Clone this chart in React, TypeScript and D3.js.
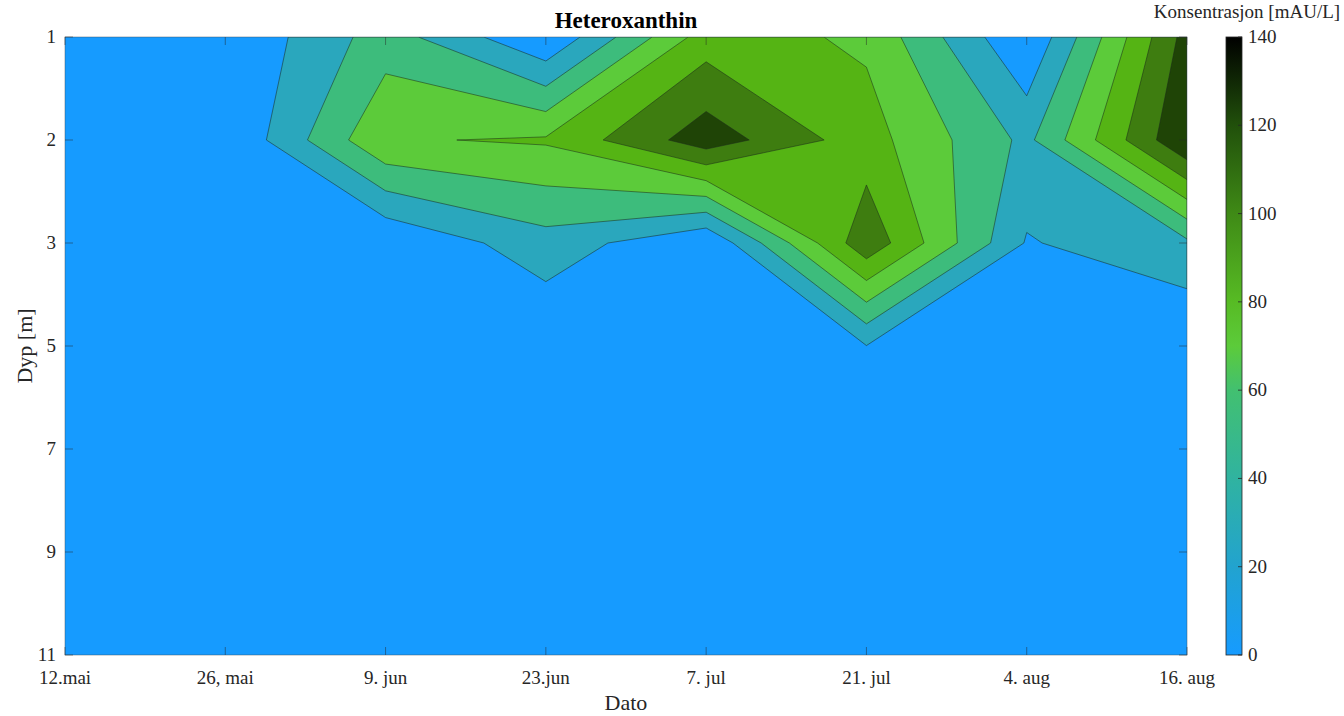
import React from "react";
import * as d3 from "d3";

// ---- data ----
const dates = ["12.mai", "26, mai", "9. jun", "23.jun", "7. jul", "21. jul", "4. aug", "16. aug"];
const depths = [1, 2, 3, 5, 7, 9, 11];
// concentration [mAU/L] per depth row, one value per sampling date
const depth1 = [0, 0.6, 50, 1, 90, 76.4, 0, 128];
const depth2 = [0, 0, 78, 82.5, 131.5, 88.7, 35, 140];
const depth3 = [0, 0, 1, 32, 1, 114.6, 18.3, 36];
const depth5 = [0, 0, 0, 0, 0, 19.6, 3, 0];
const depth7 = [0, 0, 0, 0, 0, 0, 0, 0];
const depth9 = [0, 0, 0, 0, 0, 0, 0, 0];
const depth11 = [0, 0, 0, 0, 0, 0, 0, 0];
const rows = [depth1, depth2, depth3, depth5, depth7, depth9, depth11];

const levels = [20, 40, 60, 80, 100, 120];
const bandColors = ["#169bff", "#2aa7bd", "#3dbc7c", "#5ccb3a", "#55b414", "#3e7d10", "#1f4406"];
const colorbarTicks = [0, 20, 40, 60, 80, 100, 120, 140];
const colorbarStopValues = [0, 20, 40, 60, 70, 80, 100, 120, 140];
const colorbarStopColors = ["#169bff", "#22a3cf", "#30b3a0", "#42c070", "#5ccb3a", "#57bb24", "#3f8a16", "#21500b", "#000000"];

const W = 1344;
const H = 716;
const L = 65, R = 1187, T = 37, B = 655;
const FONT = "Liberation Serif";

export default function App() {
  const nx = dates.length;
  const ny = depths.length;
  const x = d3.scaleLinear().domain([0, nx - 1]).range([L, R]);
  const y = d3.scaleLinear().domain([0, ny - 1]).range([T, B]);
  const values: number[] = [];
  rows.forEach((r) => r.forEach((v) => values.push(v)));
  const contours = d3.contours().size([nx, ny]).thresholds(levels)(values);
  const clamp = (v: number, lo: number, hi: number) => Math.max(lo, Math.min(hi, v));
  const proj = d3.geoTransform({
    point(px: number, py: number) {
      (this as any).stream.point(x(clamp(px - 0.5, 0, nx - 1)), y(clamp(py - 0.5, 0, ny - 1)));
    },
  });
  const path = d3.geoPath(proj);

  const cb = d3.scaleLinear().domain([0, 140]).range([B, T]);
  const cbX0 = 1226, cbX1 = 1242;

  return (
    <svg width={W} height={H} style={{ position: "absolute", left: 0, top: 0, background: "#fff" }} fontFamily={FONT}>
      <defs>
        <clipPath id="plotclip">
          <rect x={L} y={T} width={R - L} height={B - T} />
        </clipPath>
        <linearGradient id="cbgrad" x1="0" y1="1" x2="0" y2="0">
          {colorbarStopValues.map((v, i) => (
            <stop key={i} offset={`${(v / 140) * 100}%`} stopColor={colorbarStopColors[i]} />
          ))}
        </linearGradient>
      </defs>
      <g clipPath="url(#plotclip)">
        <rect x={L} y={T} width={R - L} height={B - T} fill={bandColors[0]} />
        {contours.map((c, i) => (
          <path key={i} d={path(c as any) || ""} fill={bandColors[i + 1]} stroke="#1b2a1b" strokeOpacity={0.75} strokeWidth={0.7} strokeLinejoin="round" />
        ))}
      </g>
      <rect x={L} y={T} width={R - L} height={B - T} fill="none" stroke="#3a4a5a" strokeOpacity={0.55} strokeWidth={0.8} />
      {/* x ticks */}
      {dates.map((d, i) => (
        <g key={d}>
          <line x1={x(i)} x2={x(i)} y1={B} y2={B - 8} stroke="#262626" strokeOpacity={0.6} strokeWidth={0.8} />
          <line x1={x(i)} x2={x(i)} y1={T} y2={T + 8} stroke="#262626" strokeOpacity={0.6} strokeWidth={0.8} />
          <text x={x(i)} y={684} textAnchor="middle" fontFamily={FONT} fontSize={19} fill="#262626">{d}</text>
        </g>
      ))}
      {/* y ticks */}
      {depths.map((d, j) => (
        <g key={d}>
          <line x1={L} x2={L + 8} y1={y(j)} y2={y(j)} stroke="#262626" strokeOpacity={0.6} strokeWidth={0.8} />
          <line x1={R} x2={R - 8} y1={y(j)} y2={y(j)} stroke="#262626" strokeOpacity={0.6} strokeWidth={0.8} />
          <text x={56} y={y(j) + 6} textAnchor="end" fontFamily={FONT} fontSize={19} fill="#262626">{d}</text>
        </g>
      ))}
      <text x={(L + R) / 2} y={28} textAnchor="middle" fontFamily={FONT} fontSize={23} fontWeight="bold" fill="#000">Heteroxanthin</text>
      <text x={(L + R) / 2} y={710} textAnchor="middle" fontFamily={FONT} fontSize={22} fill="#262626">Dato</text>
      <text transform={`translate(32, ${(T + B) / 2}) rotate(-90)`} textAnchor="middle" fontFamily={FONT} fontSize={22} fill="#262626">Dyp [m]</text>
      {/* colorbar */}
      <rect x={cbX0} y={T} width={cbX1 - cbX0} height={B - T} fill="url(#cbgrad)" stroke="#262626" strokeWidth={0.8} />
      {colorbarTicks.map((t) => (
        <g key={t}>
          <line x1={cbX1} x2={cbX1 - 4} y1={cb(t)} y2={cb(t)} stroke="#262626" strokeWidth={0.8} />
          <text x={1248} y={cb(t) + 6} fontFamily={FONT} fontSize={19} fill="#262626">{t}</text>
        </g>
      ))}
      <text x={1247} y={18} textAnchor="middle" fontFamily={FONT} fontSize={19} fill="#262626">Konsentrasjon [mAU/L]</text>
    </svg>
  );
}
